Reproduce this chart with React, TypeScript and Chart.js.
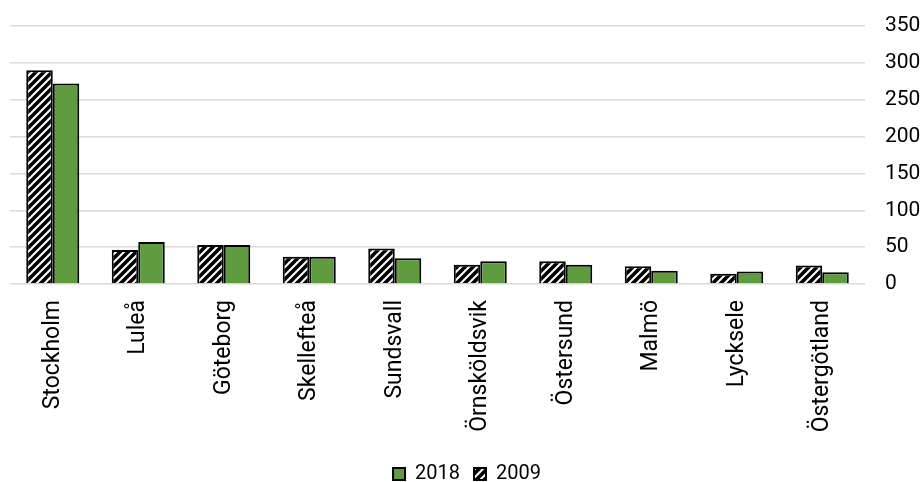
import React, { useEffect, useRef } from "react";
import { Chart, registerables } from "chart.js";

Chart.register(...registerables);

const categories = ["Stockholm", "Luleå", "Göteborg", "Skellefteå", "Sundsvall", "Örnsköldsvik", "Östersund", "Malmö", "Lycksele", "Östergötland"];
const values2009 = [290, 46, 53, 37, 48, 26, 31, 24, 14, 25];
const values2018 = [272, 57, 53, 37, 35, 31, 26, 18, 17, 16];
const yTicks = [0, 50, 100, 150, 200, 250, 300, 350];

function makeHatch(): CanvasPattern | string {
  const c = document.createElement("canvas");
  c.width = 8;
  c.height = 8;
  const ctx = c.getContext("2d");
  if (!ctx) return "#000";
  ctx.fillStyle = "#000";
  ctx.fillRect(0, 0, 8, 8);
  ctx.strokeStyle = "#fff";
  ctx.lineWidth = 2;
  ctx.beginPath();
  ctx.moveTo(-2, 10);
  ctx.lineTo(10, -2);
  ctx.moveTo(-2, 2);
  ctx.lineTo(2, -2);
  ctx.moveTo(6, 10);
  ctx.lineTo(10, 6);
  ctx.stroke();
  const p = ctx.createPattern(c, "repeat");
  return p || "#000";
}

export default function App() {
  const ref = useRef<HTMLCanvasElement>(null);
  useEffect(() => {
    if (!ref.current) return;
    const hatch = makeHatch();
    const font = "Roboto, 'DejaVu Sans', sans-serif";
    const chart = new Chart(ref.current, {
      type: "bar",
      data: {
        labels: categories,
        datasets: [
          {
            label: "2009",
            data: values2009,
            backgroundColor: hatch as any,
            borderColor: "#000",
            borderWidth: 2,
            categoryPercentage: 0.62,
            barPercentage: 1,
          },
          {
            label: "2018",
            data: values2018,
            backgroundColor: "#5F9B3F",
            borderColor: "#000",
            borderWidth: 2,
            categoryPercentage: 0.62,
            barPercentage: 1,
          },
        ],
      },
      options: {
        animation: false,
        responsive: false,
        maintainAspectRatio: false,
        layout: { padding: { left: 10, top: 26, right: 0, bottom: -12 } },
        plugins: {
          tooltip: { enabled: false },
          legend: {
            position: "bottom",
            reverse: true,
            labels: {
              boxWidth: 12,
              boxHeight: 12,
              padding: 14,
              color: "#000",
              font: { family: font, size: 20 },
            },
          },
        },
        scales: {
          x: {
            grid: { display: false },
            border: { display: false },
            ticks: {
              minRotation: 90,
              maxRotation: 90,
              color: "#000",
              font: { family: font, size: 23 },
              padding: 8,
            },
            afterFit: (s: any) => {
              s.height = 166;
            },
          },
          y: {
            position: "right",
            min: 0,
            max: 350,
            afterBuildTicks: (s: any) => {
              s.ticks = yTicks.map((v) => ({ value: v }));
            },
            grid: {
              color: "#d9d9d9",
              lineWidth: 1.5,
              drawTicks: true,
              tickLength: 20,
              tickColor: "rgba(0,0,0,0)",
            },
            border: { display: false },
            ticks: {
              color: "#000",
              font: { family: font, size: 21 },
              padding: 0,
            },
            afterFit: (s: any) => {
              s.width = 59;
            },
          },
        },
      },
    });
    return () => chart.destroy();
  }, []);
  return (
    <div style={{ position: "fixed", left: 0, top: 0, width: 924, height: 482, background: "#fff" }}>
      <canvas ref={ref} width={924} height={482} />
    </div>
  );
}
